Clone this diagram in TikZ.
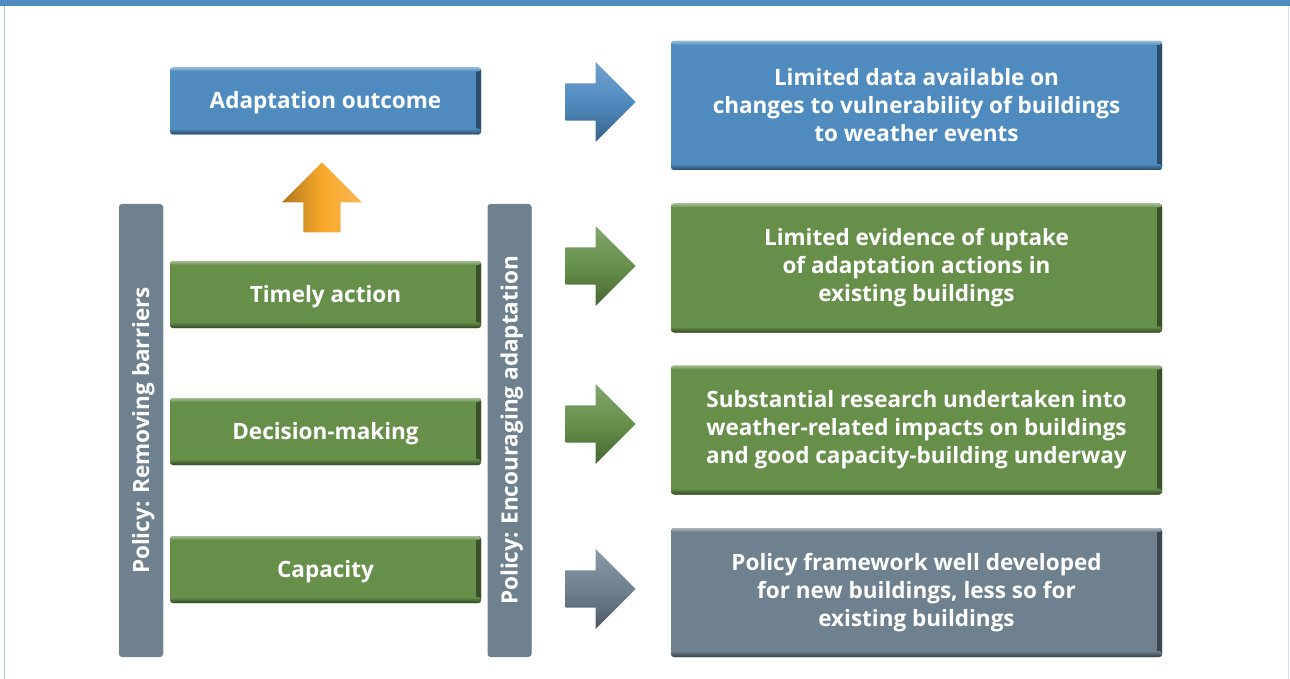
\documentclass[tikz,border=0pt]{standalone}
\usepackage{fontspec}
\setmainfont{Open Sans}
\usepackage{xcolor}
\definecolor{ColBlue}{RGB}{79,139,191}
\definecolor{ColGreen}{RGB}{102,144,74}
\definecolor{ColGrey}{RGB}{111,128,143}
\definecolor{ColOrange}{RGB}{248,168,42}
\definecolor{ColRule}{RGB}{168,198,226}
\usepackage{tikz}
\usetikzlibrary{shapes.arrows}
\usetikzlibrary{positioning}
\tikzstyle{Panel}=[rounded corners=3pt,fill=#1,text=white,align=center,
inner sep=0pt,font=\bfseries\fontsize{22.5}{28}\selectfont,
path picture={
  \shade[left color=#1,right color=#1!55!black]
    ([xshift=-5pt]path picture bounding box.north east)
    rectangle (path picture bounding box.south east);
  \shade[top color=#1,bottom color=#1!50!black]
    ([yshift=6pt]path picture bounding box.south west)
    rectangle (path picture bounding box.south east);
  \shade[top color=#1!60!white,bottom color=#1]
    (path picture bounding box.north west)
    rectangle ([yshift=-4pt]path picture bounding box.north east);}]
\tikzstyle{Small}=[Panel=#1,minimum width=311pt,minimum height=67pt,
text height=16pt,text depth=0pt]
\tikzstyle{Big}=[Panel=#1,minimum width=491pt,minimum height=129pt]
\tikzstyle{Bar}=[Panel=ColGrey,rotate=90,minimum width=453pt,minimum height=44pt,
text height=16pt,text depth=0pt]
\tikzstyle{Arrow}=[single arrow,single arrow head extend=21.5pt,
single arrow tip angle=90,inner xsep=0pt,inner ysep=18.5pt,
minimum height=70pt,top color=#1!80!white,bottom color=#1!70!black,
middle color=#1,draw=none,anchor=tip]
\tikzstyle{ArrowUp}=[Arrow=#1,shape border rotate=90,inner xsep=18.5pt,
inner ysep=0pt,left color=#1!70!black,right color=#1!80!white,middle color=#1]

\begin{document}
\begin{tikzpicture}[x=1pt,y=-1pt]
        \useasboundingbox(0,0)rectangle(1290,679);
        \fill[ColBlue](0,0)rectangle(1290,6);
        \draw[ColRule,line width=1.5pt](4.5,6)--(4.5,679);
        \draw[ColRule!60,line width=1.5pt](1288.5,6)--(1288.5,679);
        % left column
        \node[Small=ColBlue](out)at(325.5,101){Adaptation outcome};
        \node[Small=ColGreen](time)at(325.5,294.5){Timely action};
        \node[Small=ColGreen](dec)at(325.5,431.5){Decision-making};
        \node[Small=ColGreen](cap)at(325.5,569.5){Capacity};
        \node[Bar](barl)at(141,430.5){Policy: Removing barriers};
        \node[Bar](barr)at(509.5,430.5){Policy: Encouraging adaptation};
        \node[ArrowUp=ColOrange](up)at(322,162){};
        % right column
        \node[Big=ColBlue](r1)at(916.5,105.5){Limited data available on\\
            changes to vulnerability of buildings\\to weather events};
        \node[Big=ColGreen](r2)at(916.5,268){Limited evidence of uptake\\
            of adaptation actions in\\existing buildings};
        \node[Big=ColGreen](r3)at(916.5,430){Substantial research undertaken into\\
            weather-related impacts on buildings\\and good capacity-building underway};
        \node[Big=ColGrey](r4)at(916.5,592.5){Policy framework well developed\\
            for new buildings, less so for\\existing buildings};
        % arrows
        \node[Arrow=ColBlue](a1)at(636,102){};
        \node[Arrow=ColGreen](a2)at(636,266){};
        \node[Arrow=ColGreen](a3)at(636,424){};
        \node[Arrow=ColGrey](a4)at(636,589){};
    \end{tikzpicture}
\end{document}
